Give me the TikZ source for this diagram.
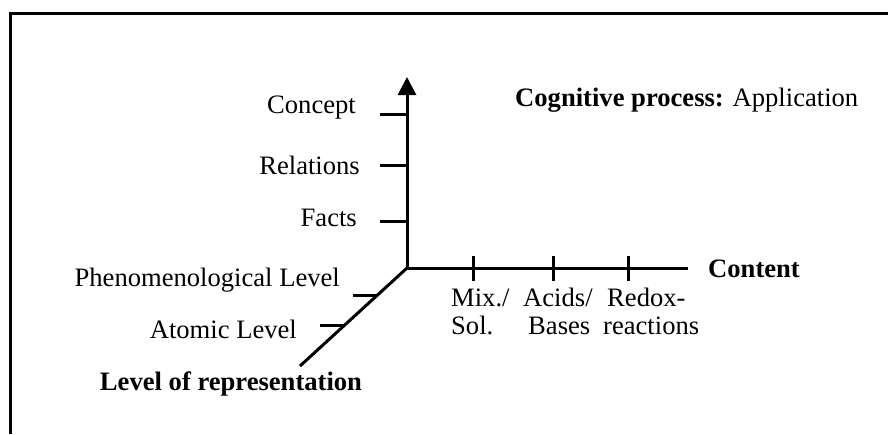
\documentclass[tikz,border=0pt]{standalone}
\usepackage{fontspec}
\setmainfont{Liberation Serif}
\usetikzlibrary{arrows.meta,calc}
\begin{document}
\begin{tikzpicture}[x=1pt,y=-1pt,
  axis/.style={line width=3pt},
  tick/.style={line width=3pt},
  lbl/.style={inner sep=0pt,font=\fontsize{26.6}{28}\selectfont},
  blbl/.style={lbl,font=\fontsize{26.6}{28}\selectfont\bfseries}]
\useasboundingbox (0,0) rectangle (888,434);
% frame
\draw[line width=3.5pt] (10.5,434) -- (10.5,13.5) -- (888,13.5);
% axes
\coordinate (O) at (407,268);
\coordinate (Ytop) at (407,77);
\coordinate (Xend) at (688,268);
\coordinate (Zend) at (300,366);
\draw[axis,-{Triangle[length=18pt,width=18pt]}] (O) -- (Ytop);
\draw[axis] (O) -- (Xend);
\draw[axis] (O) -- (Zend);
% vertical ticks
\foreach \y/\n in {114.5/ya,165.5/yb,221/yc}{
  \coordinate (\n) at (407,\y);
  \draw[tick] (\n) -- ++(-27,0);
}
% horizontal ticks
\foreach \x/\n in {473/xa,553/xb,628/xc}{
  \coordinate (\n) at (\x,268);
  \draw[tick] (\n) ++(0,-12.5) -- ++(0,25);
}
% diagonal ticks
\coordinate (za) at ($(O)!0.285!(Zend)$);
\coordinate (zb) at ($(O)!0.585!(Zend)$);
\draw[tick] (za) -- ++(-24,0);
\draw[tick] (zb) -- ++(-24,0);
% labels
\node[lbl,anchor=base east] (concept) at (356,113) {Concept};
\node[lbl,anchor=base east] (relations) at (360,174) {Relations};
\node[lbl,anchor=base east] (facts) at (357,226) {Facts};
\node[lbl,anchor=base east] (phen) at (340,286) {Phenomenological Level};
\node[lbl,anchor=base east] (atomic) at (297,338) {Atomic Level};
\node[blbl,anchor=base] (lor) at (231,390) {Level of representation};
\node[blbl,anchor=base west] (content) at (708,277) {Content};
\node[lbl,anchor=base west] (cog) at (515,106) {\textbf{Cognitive process:} Application};
\node[lbl,anchor=base west] (mix) at (451,306) {Mix./};
\node[lbl,anchor=base west] (sol) at (451,334) {Sol.};
\node[lbl,anchor=base west] (acids) at (523,306) {Acids/};
\node[lbl,anchor=base west] (bases) at (528,334) {Bases};
\node[lbl,anchor=base west] (redox) at (607,306) {Redox-};
\node[lbl,anchor=base west] (reac) at (603,334) {reactions};
\end{tikzpicture}
\end{document}
